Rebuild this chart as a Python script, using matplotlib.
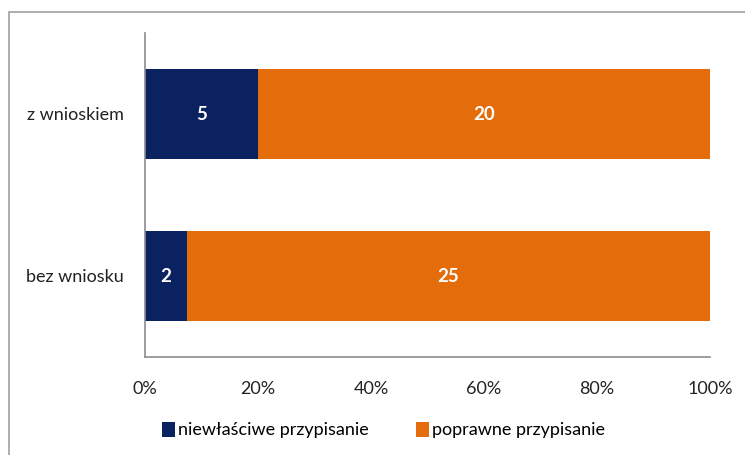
import matplotlib.pyplot as plt
from matplotlib.patches import Rectangle

# Dane
kategorie = ["bez wniosku", "z wnioskiem"]
niewlasciwe = [2, 5]
poprawne = [25, 20]
etykiety_x = ["0%", "20%", "40%", "60%", "80%", "100%"]

granat = "#0b2260"
pomarancz = "#e46c0a"

plt.rcParams["font.family"] = ["Lato", "DejaVu Sans"]

fig = plt.figure(figsize=(7.45, 4.55), dpi=100)
ax = fig.add_axes([145 / 745, 1 - 357 / 455, (710 - 145) / 745, (357 - 33) / 455])

# ramka wokół wykresu
fig.patches.append(Rectangle((9 / 745, -0.1), 1.2, 1.1 - 12 / 455,
                             transform=fig.transFigure, fill=False,
                             edgecolor="#a0a0a0", linewidth=1.2))

# procenty
sumy = [a + b for a, b in zip(niewlasciwe, poprawne)]
p1 = [a / s * 100 for a, s in zip(niewlasciwe, sumy)]
p2 = [b / s * 100 for b, s in zip(poprawne, sumy)]

y = range(len(kategorie))
h = 0.56
b1 = ax.barh(y, p1, height=h, color=granat, label="niewłaściwe przypisanie")
b2 = ax.barh(y, p2, left=p1, height=h, color=pomarancz, label="poprawne przypisanie")

for i in y:
    ax.text(p1[i] / 2, i, str(niewlasciwe[i]), ha="center", va="center",
            color="white", fontsize=13.5, fontweight="bold")
    ax.text(p1[i] + p2[i] / 2, i, str(poprawne[i]), ha="center", va="center",
            color="white", fontsize=13.5, fontweight="bold")

ax.set_xlim(0, 100)
ax.set_ylim(-0.5, 1.5)
ax.set_xticks([0, 20, 40, 60, 80, 100])
ax.set_xticklabels(etykiety_x)
ax.set_yticks(list(y))
ax.set_yticklabels(kategorie)
ax.tick_params(axis="both", length=0, labelsize=13, colors="#222222")
ax.tick_params(axis="x", pad=17)
ax.tick_params(axis="y", pad=15)

for s in ["top", "right"]:
    ax.spines[s].set_visible(False)
for s in ["left", "bottom"]:
    ax.spines[s].set_color("#8c8c8c")
    ax.spines[s].set_linewidth(1.2)

fig.legend(handles=[b1, b2], loc="center", bbox_to_anchor=(0.515, 1 - 430 / 455),
           ncol=2, frameon=False, fontsize=13, handlelength=0.7, handleheight=0.9,
           handletextpad=0.2, columnspacing=2.6)

fig.savefig("out.png", dpi=100)
